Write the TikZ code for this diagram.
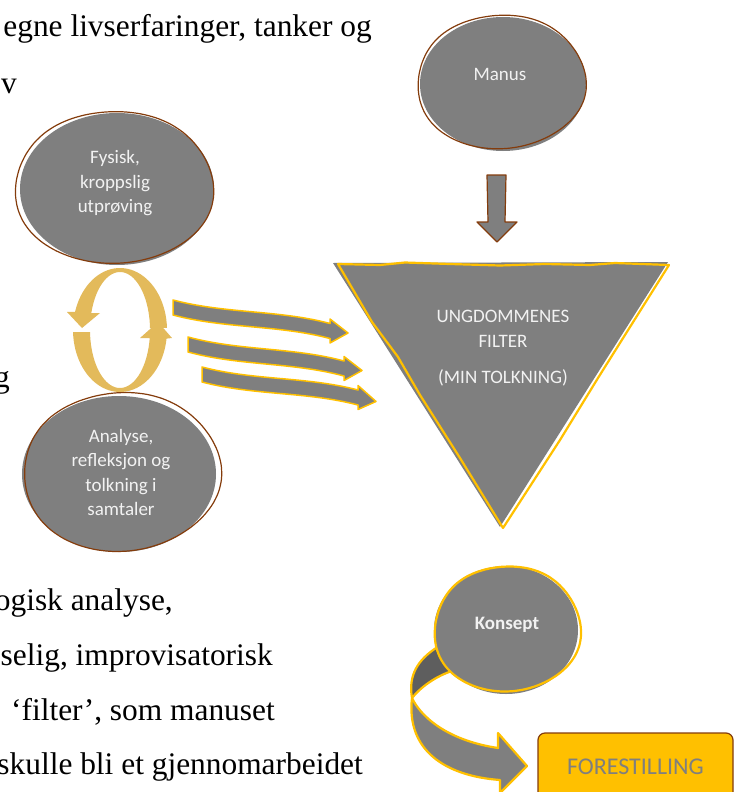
\documentclass[tikz,border=0pt]{standalone}
\usepackage{fontspec}
\setmainfont{Liberation Serif}
\newfontfamily\carlito{Carlito}
\usetikzlibrary{shapes.geometric}
\definecolor{fillgray}{HTML}{7F7F7F}
\definecolor{brownl}{HTML}{843C0C}
\definecolor{goldl}{HTML}{FFC000}
\definecolor{ringgold}{HTML}{E3BA5B}
\definecolor{labelwhite}{HTML}{F2F2F2}
\definecolor{darkband}{HTML}{5E5E5E}
\newcommand\SketchRing[6]{%
  \draw[#5] plot[smooth cycle, tension=0.7, domain=0:350, samples=36]
    ({#1+(#3+1.8*sin(3*\x+#6))*cos(\x)},{#2+(#4+1.8*cos(2*\x+#6))*sin(\x)});}
\newcommand\WaveArrow[5]{%
  \pgfmathsetmacro\wax{#1+(#3-#1)/3}%
  \pgfmathsetmacro\way{#2+(#4-#2)/3+6}%
  \pgfmathsetmacro\wbx{#1+2*(#3-#1)/3}%
  \pgfmathsetmacro\wby{#2+2*(#4-#2)/3-6}%
  \filldraw[wavestyle] (#1,#2-7.5) .. controls (\wax,\way-7.5) and (\wbx,\wby-7.5) .. (#3,#4-7.5)
    -- (#3,#4-12) -- (#3+18,#4+#5) -- (#3,#4+12) -- (#3,#4+7.5)
    .. controls (\wbx,\wby+7.5) and (\wax,\way+7.5) .. (#1,#2+7.5) -- cycle;}
\begin{document}
\begin{tikzpicture}[x=1bp,y=-1bp,
  bodytext/.style={font=\fontsize{31.4bp}{40bp}\selectfont, inner sep=0, anchor=base east},
  lbl/.style={font=\carlito\fontsize{19bp}{24.5bp}\selectfont, text=labelwhite, align=center, inner sep=0},
  blobfill/.style={ellipse, fill=fillgray, inner sep=0},
  brownline/.style={draw=brownl, line width=1.2bp},
  goldline/.style={draw=goldl, line width=2.2bp, line join=round},
  wavestyle/.style={fill=fillgray, draw=goldl, line width=1.5bp, line join=round},
  foreststyle/.style={rectangle, rounded corners=7bp, fill=goldl, draw=brownl, line width=1.2bp,
     minimum width=195bp, minimum height=68bp, text=fillgray, inner sep=0,
     font=\carlito\fontsize{24bp}{28bp}\selectfont}]
\useasboundingbox (0,0) rectangle (737,792);

% body text of the page
\node[bodytext] (p1) at (372,37) {egne livserfaringer, tanker og};
\node[bodytext] (p2) at (17,93) {v};
\node[bodytext] (p3) at (10,387) {g};
\node[bodytext] (p4) at (173,610) {ogisk analyse,};
\node[bodytext] (p5) at (273,665) {selig, improvisatorisk};
\node[bodytext] (p6) at (275,720) {‘filter’, som manuset};
\node[bodytext] (p7) at (363,774) {skulle bli et gjennomarbeidet};

% Fysisk blob
\node[blobfill, minimum width=194bp, minimum height=152bp] (fysisk) at (117,189) {};
\SketchRing{114}{187.5}{99}{77.5}{brownline}{20}
\node[lbl] (fysisklbl) at (115,183.5) {Fysisk,\\kroppslig\\utprøving};

% Analyse blob
\node[blobfill, minimum width=194bp, minimum height=156bp] (analyse) at (119,474) {};
\SketchRing{121.5}{472}{98.5}{80}{brownline}{70}
\node[lbl] (analyselbl) at (121,472.5) {Analyse,\\refleksjon og\\tolkning i\\samtaler};

% cycle arrows
\fill[ringgold] plot[domain=-2:-163, samples=40] ({120+47*cos(\x)},{330+62*sin(\x)})
  -- (67,312) -- (82,328) -- (100,313)
  -- plot[domain=-163:-2, samples=40] ({120+30*cos(\x)},{330+58*sin(\x)}) -- cycle;
\fill[ringgold] plot[domain=178:8, samples=40] ({120+47*cos(\x)},{330+62*sin(\x)})
  -- (172,338) -- (158,322) -- (140,338)
  -- plot[domain=8:178, samples=40] ({120+30*cos(\x)},{330+58*sin(\x)}) -- cycle;

% wave arrows
\WaveArrow{173}{307.5}{330}{331}{2}
\WaveArrow{188}{344.5}{344}{368.5}{2}
\WaveArrow{202}{374.5}{358}{397.5}{4}

% Manus blob
\node[blobfill, minimum width=166bp, minimum height=134bp] (manus) at (503,84) {};
\SketchRing{501}{82}{84}{68}{brownline}{45}
\node[lbl] (manuslbl) at (500,74) {Manus};

% down arrow
\filldraw[fill=fillgray, brownline, line join=round] (487,175) -- (506,175) -- (505,222) -- (517,222)
  -- (497,242) -- (477,222) -- (488,222) -- cycle;

% filter triangle
\fill[fillgray] (333,263) -- (668,262) -- (500,527) -- cycle;
\draw[goldline] (338,264) -- (380,265) -- (405,262.5) -- (450,264) -- (500,265.5) -- (545,264)
  -- (590,265) -- (615,263) -- (669,265) -- (630,327) -- (598,378) -- (560,440) -- (503,528)
  -- (460,458) -- (420,395) -- (398,357) -- (372,322) -- cycle;
\node[lbl] (filterlbl) at (503,348.5) {UNGDOMMENES\\FILTER\\[12bp](MIN TOLKNING)};

% Konsept arrow
\filldraw[fill=darkband, goldline] (436,648) .. controls (418,660) and (408,675) .. (412,698)
  .. controls (420,688) and (435,676) .. (455,670) -- cycle;
\filldraw[fill=fillgray, goldline] (412,698) .. controls (420,715) and (445,740) .. (498,748)
  -- (498,733) -- (527,766) -- (500,793) -- (500,780)
  .. controls (445,776) and (406,750) .. (412,698) -- cycle;

% Konsept blob
\node[blobfill, minimum width=144bp, minimum height=128bp] (konsept) at (506,630) {};
\SketchRing{507}{629}{73}{64}{goldline}{30}
\node[lbl, font=\carlito\bfseries\fontsize{19bp}{24.5bp}\selectfont] (konseptlbl) at (507,624.5) {Konsept};

% Forestilling box
\node[foreststyle] (forest) at (635.5,767) {FORESTILLING};
\end{tikzpicture}
\end{document}
